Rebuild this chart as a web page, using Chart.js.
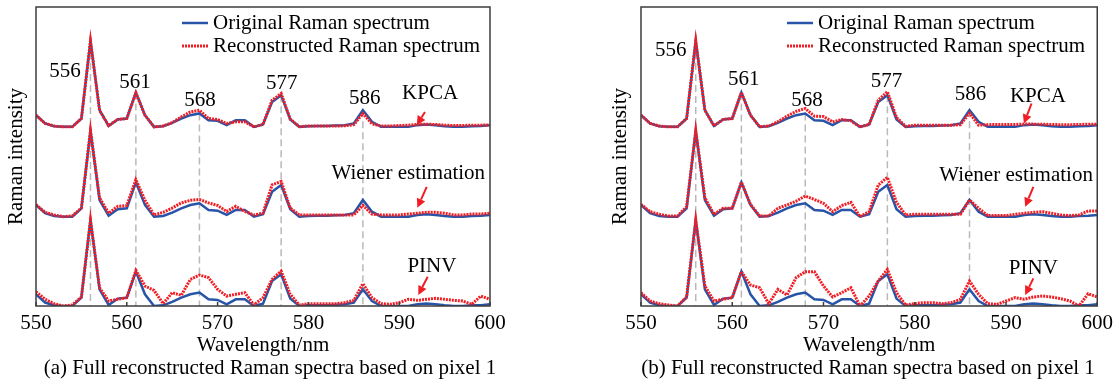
<!DOCTYPE html>
<html lang="en">
<head>
<meta charset="UTF-8">
<title>Full reconstructed Raman spectra</title>
<script src="https://cdn.jsdelivr.net/npm/chart.js"></script>
<style>
    body { margin: 0; background: #fff; }
    #wrap { position: relative; width: 1118px; height: 385px; overflow: hidden; }
    canvas { position: absolute; top: 0; }
    .caption {
        position: absolute; top: 354px; width: 600px; text-align: center;
        font-family: 'Liberation Serif', 'Times New Roman', serif; font-size: 21px; line-height: 26px; color: #000;
    }
</style>
</head>
<body>
<div id="wrap">
    <canvas id="panelA" width="559" height="385" style="left:0"></canvas>
    <canvas id="panelB" width="559" height="385" style="left:559px"></canvas>
    <div class="caption" style="left:-30px">(a) Full reconstructed Raman spectra based on pixel 1</div>
    <div class="caption" style="left:568px">(b) Full reconstructed Raman spectra based on pixel 1</div>
</div>

<script>
// --- data (intensity, a.u., 556 nm peak = 1) ---
const wavelengths = [550, 551, 552, 553, 554, 555, 556, 557, 558, 559,
                     560, 561, 562, 563, 564, 565, 566, 567, 568, 569,
                     570, 571, 572, 573, 574, 575, 576, 577, 578, 579,
                     580, 581, 582, 583, 584, 585, 586, 587, 588, 589,
                     590, 591, 592, 593, 594, 595, 596, 597, 598, 599, 600];
const xTicks = [550, 560, 570, 580, 590, 600];
const peaks = [556, 561, 568, 577, 586];

const original = [0.136, 0.040, 0.008, 0.000, 0.000, 0.097, 1.000, 0.194, 0.012, 0.086,
                  0.097, 0.400, 0.136, 0.000, 0.008, 0.047, 0.097, 0.136, 0.156, 0.078,
                  0.070, 0.020, 0.078, 0.078, 0.000, 0.028, 0.290, 0.369, 0.086, 0.000,
                  0.008, 0.010, 0.010, 0.015, 0.020, 0.040, 0.194, 0.058, 0.000, 0.000,
                  0.000, 0.000, 0.020, 0.028, 0.020, 0.008, 0.000, 0.000, 0.008, 0.010, 0.020];

// panel (a)
const kpcaA = [0.136, 0.040, 0.010, 0.000, 0.002, 0.097, 1.000, 0.190, 0.015, 0.086,
               0.097, 0.395, 0.136, 0.000, 0.010, 0.050, 0.116, 0.174, 0.194, 0.097,
               0.086, 0.040, 0.058, 0.058, 0.000, 0.028, 0.310, 0.388, 0.090, 0.004,
               0.010, 0.010, 0.010, 0.010, 0.012, 0.025, 0.155, 0.035, 0.010, 0.010,
               0.015, 0.020, 0.028, 0.030, 0.028, 0.020, 0.015, 0.015, 0.020, 0.020, 0.022];
const wienerA = [0.140, 0.050, 0.020, 0.000, 0.010, 0.100, 1.000, 0.220, 0.040, 0.120,
                 0.130, 0.430, 0.190, 0.020, 0.050, 0.100, 0.160, 0.190, 0.200, 0.160,
                 0.130, 0.060, 0.120, 0.060, 0.020, 0.040, 0.370, 0.410, 0.100, 0.020,
                 0.020, 0.020, 0.020, 0.020, 0.020, 0.020, 0.130, 0.030, 0.020, 0.020,
                 0.020, 0.030, 0.040, 0.050, 0.050, 0.040, 0.020, 0.020, 0.030, 0.030, 0.040];
const pinvA = [0.167, 0.078, 0.027, 0.000, 0.012, 0.105, 1.000, 0.213, 0.058, 0.078,
               0.097, 0.415, 0.233, 0.182, 0.027, 0.155, 0.124, 0.310, 0.360, 0.330,
               0.194, 0.116, 0.136, 0.155, 0.012, 0.097, 0.310, 0.407, 0.136, 0.012,
               0.027, 0.027, 0.027, 0.027, 0.039, 0.066, 0.260, 0.097, 0.027, 0.020,
               0.039, 0.078, 0.066, 0.078, 0.089, 0.078, 0.066, 0.058, 0.020, 0.116, 0.078];

// panel (b)
const kpcaB = [0.136, 0.040, 0.010, 0.000, 0.002, 0.097, 1.000, 0.194, 0.012, 0.086,
               0.097, 0.400, 0.136, 0.000, 0.010, 0.060, 0.125, 0.180, 0.214, 0.125,
               0.120, 0.058, 0.086, 0.070, 0.000, 0.028, 0.310, 0.410, 0.110, 0.005,
               0.020, 0.020, 0.020, 0.020, 0.020, 0.025, 0.160, 0.020, 0.025, 0.028,
               0.028, 0.028, 0.032, 0.032, 0.030, 0.028, 0.025, 0.025, 0.028, 0.030, 0.030];
const wienerB = [0.143, 0.058, 0.027, 0.008, 0.008, 0.116, 1.000, 0.220, 0.027, 0.097,
                 0.097, 0.400, 0.143, 0.008, 0.008, 0.097, 0.136, 0.180, 0.240, 0.200,
                 0.155, 0.058, 0.128, 0.167, 0.000, 0.058, 0.368, 0.457, 0.167, 0.019,
                 0.027, 0.027, 0.027, 0.027, 0.027, 0.027, 0.194, 0.097, 0.012, 0.012,
                 0.012, 0.027, 0.039, 0.050, 0.058, 0.039, 0.019, 0.012, 0.019, 0.066, 0.066];
const pinvB = [0.155, 0.058, 0.027, 0.012, 0.000, 0.105, 1.000, 0.233, 0.058, 0.078,
               0.097, 0.400, 0.244, 0.213, 0.027, 0.194, 0.128, 0.330, 0.400, 0.400,
               0.233, 0.105, 0.155, 0.213, 0.000, 0.116, 0.290, 0.426, 0.155, 0.012,
               0.027, 0.039, 0.039, 0.027, 0.039, 0.078, 0.290, 0.136, 0.027, 0.019,
               0.058, 0.097, 0.078, 0.105, 0.116, 0.105, 0.085, 0.058, 0.000, 0.143, 0.105];

const methods = ['KPCA', 'Wiener estimation', 'PINV'];
const rowOffsets = [2.085, 1.04, 0];   // vertical stacking of the three methods

// --- styles ---
const FONT_FAMILY = "'Liberation Serif', 'Times New Roman', serif";
const FONT = '21px ' + FONT_FAMILY;
const BLUE = 'rgb(40, 84, 168)';
const RED = 'rgb(240, 30, 36)';
const GREY = 'rgb(185, 185, 185)';

Chart.defaults.font.family = FONT_FAMILY;
Chart.defaults.font.size = 21;
Chart.defaults.color = '#000';

function pts(values, offset) {
    return wavelengths.map((w, i) => ({ x: w, y: values[i] + offset }));
}

// frame, inward ticks, legend, peak labels and arrows
const decor = {
    id: 'decor',
    afterDraw(chart, args, opts) {
        const { ctx, chartArea: a, scales: { x, y } } = chart;
        ctx.save();
        ctx.strokeStyle = '#3c3c3c';
        ctx.lineWidth = 1.5;
        ctx.strokeRect(a.left, a.top, a.right - a.left, a.bottom - a.top);
        xTicks.forEach(v => {
            const px = x.getPixelForValue(v);
            ctx.beginPath(); ctx.moveTo(px, a.bottom); ctx.lineTo(px, a.bottom - 4); ctx.stroke();
        });

        ctx.font = FONT;
        ctx.fillStyle = '#000';
        ctx.textAlign = 'center';
        ctx.textBaseline = 'middle';
        opts.labels.forEach(l => ctx.fillText(l.text, x.getPixelForValue(l.x), y.getPixelForValue(l.y)));

        // arrows
        ctx.strokeStyle = RED; ctx.fillStyle = RED; ctx.lineWidth = 2;
        opts.arrows.forEach(ar => {
            const x1 = x.getPixelForValue(ar.from[0]), y1 = y.getPixelForValue(ar.from[1]);
            const x2 = x.getPixelForValue(ar.to[0]), y2 = y.getPixelForValue(ar.to[1]);
            const ang = Math.atan2(y2 - y1, x2 - x1);
            const hl = 9, hw = 4.5;
            const bx = x2 - hl * Math.cos(ang), by = y2 - hl * Math.sin(ang);
            ctx.beginPath(); ctx.moveTo(x1, y1); ctx.lineTo(bx, by); ctx.stroke();
            ctx.beginPath();
            ctx.moveTo(x2, y2);
            ctx.lineTo(bx + hw * Math.sin(ang), by - hw * Math.cos(ang));
            ctx.lineTo(bx - hw * Math.sin(ang), by + hw * Math.cos(ang));
            ctx.closePath(); ctx.fill();
        });

        // legend
        const lx = a.left + 177, ly1 = a.top + 16, ly2 = a.top + 39;
        ctx.textAlign = 'left';
        ctx.fillStyle = '#000';
        ctx.fillText('Original Raman spectrum', lx, ly1);
        ctx.fillText('Reconstructed Raman spectrum', lx, ly2);
        ctx.lineWidth = 2.5; ctx.strokeStyle = BLUE;
        ctx.beginPath(); ctx.moveTo(lx - 31, ly1); ctx.lineTo(lx - 5, ly1); ctx.stroke();
        ctx.lineWidth = 3; ctx.strokeStyle = RED; ctx.setLineDash([2, 1]);
        ctx.beginPath(); ctx.moveTo(lx - 31, ly2); ctx.lineTo(lx - 5, ly2); ctx.stroke();
        ctx.restore();
    }
};

function makePanel(id, recon, padLeft, yWidth, padRight, labels, arrows) {
    const datasets = [];
    peaks.forEach(p => {
        const i = wavelengths.indexOf(p);
        datasets.push({
            data: [{ x: p, y: rowOffsets[0] + original[i] }, { x: p, y: 0 }],
            borderColor: GREY, borderWidth: 1.5, borderDash: [7, 4], order: 3
        });
    });
    recon.forEach((r, k) => {
        datasets.push({ data: pts(original, rowOffsets[k]), borderColor: BLUE, borderWidth: 2.5, order: 2 });
        datasets.push({ data: pts(r, rowOffsets[k]), borderColor: RED, borderWidth: 3, borderDash: [2, 1], order: 1 });
    });

    new Chart(document.getElementById(id), {
        type: 'line',
        data: { datasets },
        options: {
            responsive: false,
            animation: false,
            layout: { padding: { left: padLeft, right: padRight, top: 7, bottom: 0 } },
            elements: { point: { radius: 0 }, line: { tension: 0 } },
            plugins: { legend: { display: false }, tooltip: { enabled: false }, decor: { labels, arrows } },
            scales: {
                x: {
                    type: 'linear', min: 550, max: 600,
                    afterBuildTicks: s => { s.ticks = xTicks.map(v => ({ value: v })); },
                    afterFit: s => { s.height = 79; },
                    grid: { display: false, drawTicks: false },
                    border: { display: false },
                    ticks: { padding: 5, font: { size: 21 } },
                    title: { display: true, text: 'Wavelength/nm', font: { size: 21 }, padding: { top: 0, bottom: 27 } }
                },
                y: {
                    min: 0, max: 3.48,
                    afterFit: s => { s.width = yWidth; },
                    grid: { display: false, drawTicks: false },
                    border: { display: false },
                    ticks: { display: false },
                    title: { display: true, text: 'Raman intensity', font: { size: 21 }, padding: { top: 4, bottom: 0 } }
                }
            }
        },
        plugins: [decor]
    });
}

const labelsA = [
    { text: '556', x: 553.2, y: 2.724 }, { text: '561', x: 560.9, y: 2.597 },
    { text: '568', x: 568.06, y: 2.395 }, { text: '577', x: 577.06, y: 2.59 },
    { text: '586', x: 586.2, y: 2.42 }, { text: methods[0], x: 593.4, y: 2.473 },
    { text: methods[1], x: 591.0, y: 1.543 }, { text: methods[2], x: 593.6, y: 0.457 }
];
const arrowsA = [
    { from: [592.84, 2.259], to: [591.93, 2.105] },
    { from: [593.03, 1.387], to: [592.0, 1.143] },
    { from: [593.14, 0.341], to: [592.1, 0.128] }
];
const labelsB = [
    { text: '556', x: 553.25, y: 2.97 }, { text: '561', x: 561.27, y: 2.636 },
    { text: '568', x: 568.2, y: 2.395 }, { text: '577', x: 576.9, y: 2.608 },
    { text: '586', x: 586.1, y: 2.46 }, { text: methods[0], x: 593.5, y: 2.44 },
    { text: methods[1], x: 591.1, y: 1.523 }, { text: methods[2], x: 593.0, y: 0.438 }
];
const arrowsB = [
    { from: [592.8, 2.357], to: [591.96, 2.124] },
    { from: [593.0, 1.387], to: [592.1, 1.155] },
    { from: [593.0, 0.322], to: [592.1, 0.128] }
];

makePanel('panelA', [kpcaA, wienerA, pinvA], 0, 36, 69, labelsA, arrowsA);
makePanel('panelB', [kpcaB, wienerB, pinvB], 45, 37, 20, labelsB, arrowsB);
</script>
</body>
</html>
